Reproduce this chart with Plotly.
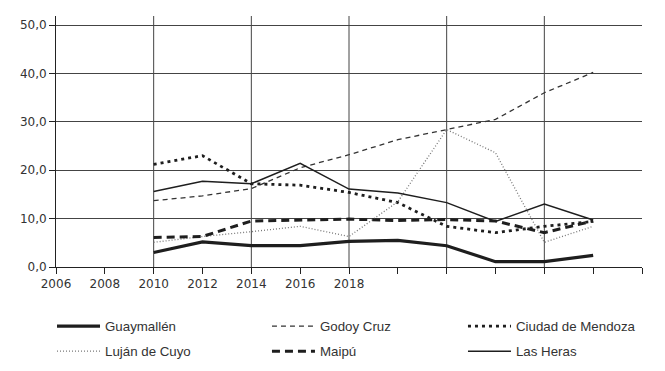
import plotly.graph_objects as go

years = [2010, 2012, 2014, 2016, 2018, 2020, 2022, 2024, 2026, 2028]
tick_years = [2006, 2008, 2010, 2012, 2014, 2016, 2018, 2020, 2022, 2024, 2026, 2028, 2030]
tick_labels = ["2006", "2008", "2010", "2012", "2014", "2016", "2018", "", "", "", "", "", ""]
grid_years = [2010, 2014, 2018, 2022, 2026]

guaymallen = [3.0, 5.2, 4.4, 4.4, 5.3, 5.5, 4.4, 1.1, 1.1, 2.4]
godoy_cruz = [13.7, 14.7, 16.2, 20.5, 23.2, 26.3, 28.4, 30.5, 36.0, 40.2]
ciudad_mendoza = [21.2, 23.0, 17.2, 16.9, 15.4, 13.3, 8.4, 7.1, 8.4, 9.4]
lujan_cuyo = [5.1, 6.3, 7.3, 8.4, 6.3, 13.5, 28.4, 23.6, 5.1, 8.4]
maipu = [6.1, 6.3, 9.5, 9.7, 9.9, 9.6, 9.8, 9.5, 7.1, 9.5]
las_heras = [15.6, 17.7, 17.2, 21.4, 16.1, 15.3, 13.3, 9.4, 13.0, 9.7]

fig = go.Figure()

# (name, values, line style, legend id, legend x (paper), legend y (paper))
series = [
    ("Guaymallén", guaymallen, dict(color="#1e1e1e", width=3.2, dash="solid"), "legend", -0.0068, -0.175),
    ("Godoy Cruz", godoy_cruz, dict(color="#333333", width=1.3, dash="5px,4px"), "legend2", 0.360, -0.175),
    ("Ciudad de Mendoza", ciudad_mendoza, dict(color="#1e1e1e", width=2.8, dash="3px,4px"), "legend3", 0.6945, -0.175),
    ("Luján de Cuyo", lujan_cuyo, dict(color="#777777", width=1.3, dash="1px,2px"), "legend4", -0.0068, -0.275),
    ("Maipú", maipu, dict(color="#1e1e1e", width=3.0, dash="8px,5px"), "legend5", 0.360, -0.275),
    ("Las Heras", las_heras, dict(color="#1e1e1e", width=1.5, dash="solid"), "legend6", 0.6945, -0.275),
]

legend_layout = {}
for name, vals, line, lg, lx, ly in series:
    fig.add_trace(go.Scatter(x=years, y=vals, name=name, mode="lines", line=line,
                             legend=lg, hoverinfo="skip"))
    legend_layout[lg] = dict(
        x=lx, y=ly, xanchor="left", yanchor="top", orientation="v",
        font=dict(family="Liberation Sans, Arial, sans-serif", size=13.3, color="#333333"),
        itemwidth=43, bgcolor="rgba(0,0,0,0)",
    )

for gy in grid_years:
    fig.add_shape(type="line", x0=gy, x1=gy, y0=0, y1=1, xref="x", yref="paper",
                  line=dict(color="#444444", width=1), layer="below")

fig.update_layout(
    width=665, height=371,
    margin=dict(l=56, r=23, t=16, b=104, autoexpand=False),
    paper_bgcolor="white", plot_bgcolor="white",
    separators=",.",
    showlegend=True,
    hovermode=False,
    xaxis=dict(range=[2006, 2030], tickvals=tick_years, ticktext=tick_labels,
               showgrid=False, zeroline=False, showline=True, linecolor="#222222", linewidth=1,
               ticks="outside", ticklen=6, tickcolor="#222222", automargin=False,
               tickfont=dict(family="DejaVu Sans, sans-serif", size=12, color="#333333")),
    yaxis=dict(range=[0, 51.86], tickvals=[0, 10, 20, 30, 40, 50], tickformat=".1f",
               showgrid=True, gridcolor="#444444", gridwidth=1, zeroline=False,
               showline=True, linecolor="#222222", linewidth=1, automargin=False,
               ticks="outside", ticklen=6, tickcolor="#222222",
               tickfont=dict(family="DejaVu Sans, sans-serif", size=12, color="#333333")),
    **legend_layout,
)

fig.write_html("out.html", config={"displayModeBar": False},
               post_script="document.body.style.margin='0px';document.body.style.overflow='hidden';")
